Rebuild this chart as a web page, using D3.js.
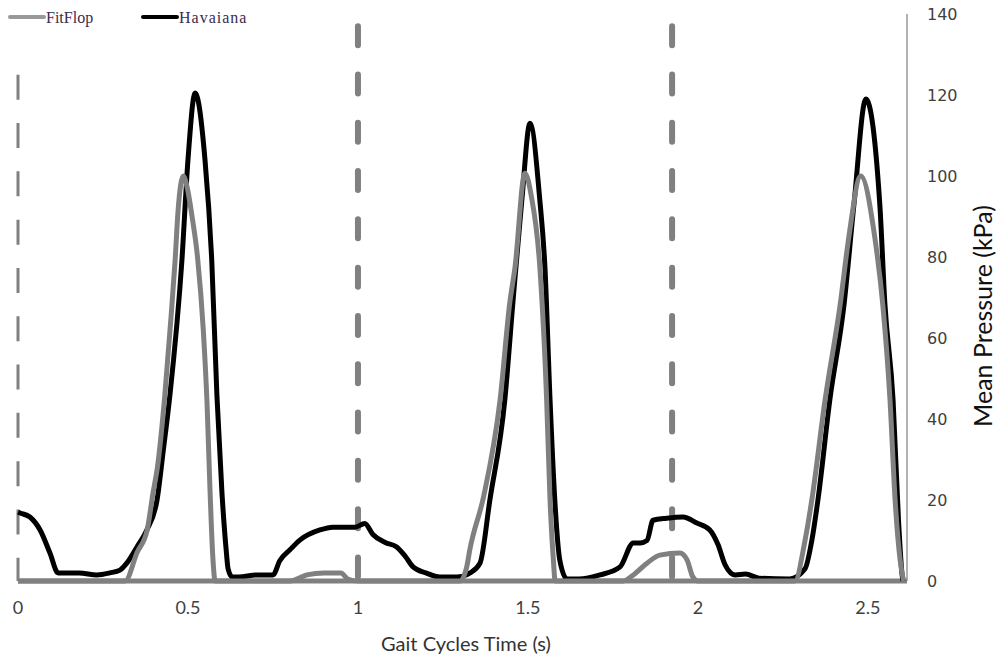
<!DOCTYPE html>
<html>
<head>
<meta charset="utf-8">
<script src="https://cdn.jsdelivr.net/npm/d3@7/dist/d3.min.js"></script>
<style>
  body { margin: 0; background: #fff; }
</style>
</head>
<body>
<div id="chart"></div>
<script>
// Havaiana (black) samples
const havTime = [0, 0.006, 0.035, 0.065, 0.094, 0.118, 0.153, 0.18, 0.232, 0.27, 0.3, 0.32, 0.35, 0.379, 0.409,
    0.427, 0.447, 0.482, 0.5, 0.521, 0.55, 0.57, 0.585, 0.6, 0.612, 0.618, 0.63, 0.65, 0.7, 0.75, 0.77, 0.8,
    0.829, 0.888, 0.926, 0.991, 1.02, 1.044, 1.08, 1.114, 1.14, 1.162, 1.2, 1.241, 1.291, 1.33, 1.359, 1.388,
    1.432, 1.456, 1.482, 1.506, 1.535, 1.55, 1.565, 1.579, 1.594, 1.615, 1.65, 1.712, 1.771, 1.81, 1.83, 1.85,
    1.868, 1.908, 1.956, 1.997, 2.035, 2.059, 2.08, 2.11, 2.14, 2.18, 2.27, 2.315, 2.335, 2.353, 2.388, 2.43,
    2.459, 2.494, 2.535, 2.55, 2.574, 2.59, 2.6, 2.603];
const havValues = [17, 16.8, 15.8, 12.6, 6.9, 2, 2, 2, 1.5, 2, 2.7, 4.4, 8.4, 12.6, 20,
    32, 46, 79, 104, 120.5, 104, 79, 46, 21.7, 8, 3, 1, 1, 1.5, 1.5, 5, 7.7,
    10.1, 12.6, 13.3, 13.3, 14.2, 11.5, 9.5, 8.4, 6, 3.5, 2, 1, 1, 2, 4.4, 20,
    44.7, 69, 94, 113, 94, 77.5, 44.7, 20, 5, 0.5, 0.5, 1.5, 3.5, 9.4, 9.4, 10,
    15, 15.5, 15.8, 14.3, 12.6, 9, 4, 1.5, 1.7, 0.7, 0.5, 3, 10, 20, 44.7, 68.4,
    93, 119, 93, 68.4, 44.7, 15, 2, 0];

// FitFlop (grey) samples
const fitTime = [0, 0.315, 0.35, 0.38, 0.397, 0.41, 0.432, 0.45, 0.462, 0.471, 0.486, 0.498, 0.512, 0.528,
    0.545, 0.556, 0.565, 0.573, 0.58, 0.8, 0.85, 0.9, 0.95, 0.97, 1.0, 1.3, 1.32, 1.329, 1.37, 1.418, 1.447,
    1.462, 1.491, 1.51, 1.535, 1.555, 1.565, 1.575, 1.58, 1.78, 1.81, 1.85, 1.888, 1.947, 1.968, 1.985, 2.0,
    2.285, 2.315, 2.335, 2.374, 2.418, 2.444, 2.479, 2.52, 2.544, 2.565, 2.58, 2.595, 2.605];
const fitValues = [0, 0, 7, 12.6, 21.7, 28, 46, 65, 79, 91.6, 100, 97, 90, 80,
    62, 44, 22, 6, 0, 0, 1.5, 2, 2, 0.5, 0, 0, 3.5, 7.7, 21, 44.7, 69,
    77.5, 100.7, 95, 77.5, 44.7, 20, 5, 0, 0, 1.5, 4.4, 6.4, 6.9, 5.2, 1, 0,
    0, 10, 20, 44.7, 68, 85, 100, 85, 68, 44.7, 20, 5, 0];

// axis ticks and the dashed gait-cycle markers
const xTicks = [0, 0.5, 1, 1.5, 2, 2.5];
const yTicks = [0, 20, 40, 60, 80, 100, 120, 140];
const markerTime = [0, 1, 1.924];
const markerTop = [125, 137, 137];

const width = 999, height = 661;

const svg = d3.select("#chart")
    .append("svg")
    .attr("width", width)
    .attr("height", height);

const x = d3.scaleLinear().domain([0, 2.615]).range([18, 907]);
const y = d3.scaleLinear().domain([0, 140]).range([581, 14]);

// right-hand value axis line
svg.append("line")
    .attr("x1", x(2.615)).attr("x2", x(2.615))
    .attr("y1", y(140)).attr("y2", y(0))
    .style("stroke", "#999")
    .style("stroke-width", 1.5);

// y tick labels on the right
svg.selectAll("text.ytick")
    .data(yTicks)
    .enter()
    .append("text")
    .attr("class", "ytick")
    .attr("x", 927)
    .attr("y", d => y(d))
    .attr("dy", "0.35em")
    .style("font-family", "DejaVu Sans")
    .style("font-size", "16px")
    .style("fill", "#404040")
    .text(d => d);

// x tick labels
svg.selectAll("text.xtick")
    .data(xTicks)
    .enter()
    .append("text")
    .attr("class", "xtick")
    .attr("x", d => x(d))
    .attr("y", 614)
    .attr("text-anchor", "middle")
    .style("font-family", "Lato")
    .style("font-size", "18px")
    .style("fill", "#404040")
    .text(d => d);

// axis titles
svg.append("text")
    .attr("x", 466)
    .attr("y", 651)
    .attr("text-anchor", "middle")
    .style("font-family", "Lato")
    .style("font-size", "20px")
    .style("fill", "#333")
    .text("Gait Cycles Time (s)");

svg.append("text")
    .attr("transform", "translate(992,316) rotate(-90)")
    .attr("text-anchor", "middle")
    .style("font-family", "Lato")
    .style("font-size", "25px")
    .style("fill", "#111")
    .text("Mean Pressure (kPa)");

// dashed markers
svg.selectAll("line.marker")
    .data(markerTime)
    .enter()
    .append("line")
    .attr("class", "marker")
    .attr("x1", d => x(d)).attr("x2", d => x(d))
    .attr("y1", (d, i) => y(markerTop[i]))
    .attr("y2", y(0))
    .style("stroke", "#808080")
    .style("stroke-width", (d, i) => i === 0 ? 3 : 6)
    .style("stroke-linecap", (d, i) => i === 0 ? "butt" : "round")
    .style("stroke-dasharray", (d, i) => i === 0 ? "25,23.3" : "19,29.3");

// baseline axis
svg.append("line")
    .attr("x1", x(0)).attr("x2", x(2.615))
    .attr("y1", y(0)).attr("y2", y(0))
    .style("stroke", "#808080")
    .style("stroke-width", 5);

const line = d3.line()
    .x(d => x(d[0]))
    .y(d => y(d[1]))
    .curve(d3.curveMonotoneX);

svg.append("path")
    .datum(havTime.map((t, i) => [t, havValues[i]]))
    .attr("d", line)
    .style("fill", "none")
    .style("stroke", "#000")
    .style("stroke-width", 5)
    .style("stroke-linejoin", "round");

svg.append("path")
    .datum(fitTime.map((t, i) => [t, fitValues[i]]))
    .attr("d", line)
    .style("fill", "none")
    .style("stroke", "#808080")
    .style("stroke-width", 5)
    .style("stroke-linejoin", "round");

// legend
const legend = [
    { name: "FitFlop", color: "#999", x: 10 },
    { name: "Havaiana", color: "#000", x: 143 }
];
const lg = svg.selectAll("g.legend")
    .data(legend)
    .enter()
    .append("g")
    .attr("class", "legend")
    .attr("transform", d => `translate(${d.x},17)`);
lg.append("line")
    .attr("x1", 0).attr("x2", 34)
    .style("stroke", d => d.color)
    .style("stroke-width", 4)
    .style("stroke-linecap", "round");
lg.append("text")
    .attr("x", 36)
    .attr("dy", "0.35em")
    .style("font-family", "Liberation Serif")
    .style("font-size", "16px")
    .style("fill", "#3b2b50")
    .style("letter-spacing", (d, i) => i === 1 ? "1px" : "0px")
    .text(d => d.name);
</script>
</body>
</html>
